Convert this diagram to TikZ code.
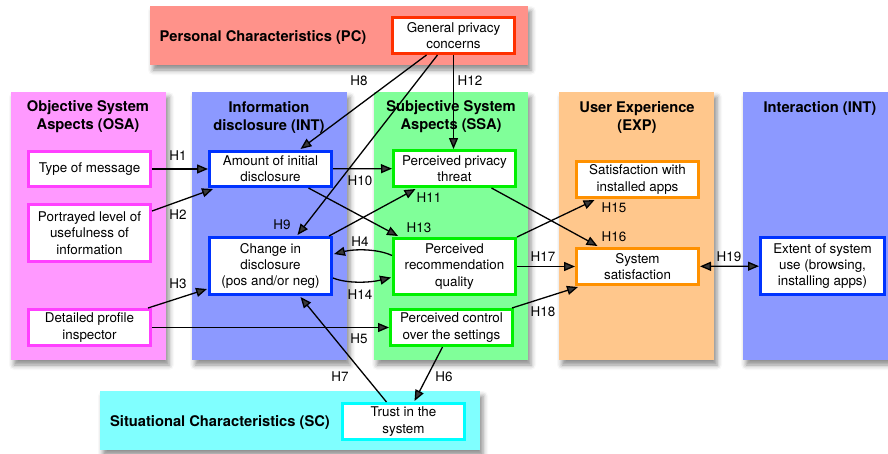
\documentclass[tikz,border=0pt]{standalone}
\usepackage{fontspec}
\setmainfont{TeX Gyre Heros}
\usetikzlibrary{arrows.meta,shadows.blur,calc}
\definecolor{pcfill}{RGB}{255,146,138}
\definecolor{pcline}{RGB}{255,48,0}
\definecolor{osafill}{RGB}{255,153,255}
\definecolor{osaline}{RGB}{255,64,255}
\definecolor{intfill}{RGB}{140,153,255}
\definecolor{intline}{RGB}{0,51,255}
\definecolor{ssafill}{RGB}{128,255,153}
\definecolor{ssaline}{RGB}{0,240,0}
\definecolor{expfill}{RGB}{255,199,140}
\definecolor{expline}{RGB}{255,145,0}
\definecolor{scfill}{RGB}{128,255,255}
\definecolor{scline}{RGB}{0,255,255}
\begin{document}
\begin{tikzpicture}[x=1pt,y=-1pt,
  grp/.style={blur shadow={shadow xshift=3pt,shadow yshift=-5pt,shadow blur radius=5pt,shadow opacity=45}},
  grptitle/.style={font=\fontsize{14.7}{18}\selectfont\bfseries, align=center, inner sep=0pt},
  box/.style={draw, fill=white, line width=2.6pt, minimum width=122.4pt, inner sep=0pt, align=center, font=\fontsize{13.4}{16.3}\selectfont},
  lab/.style={font=\fontsize{13.4}{16}\selectfont, inner sep=0pt},
  arr/.style={line width=1.3pt, -{Triangle[length=11pt,width=9pt]}},
  darr/.style={line width=1.3pt, {Triangle[length=11pt,width=9pt]}-{Triangle[length=11pt,width=9pt]}}
]
\useasboundingbox (0,0) rectangle (888,453);
% group boxes
\path[grp, fill=pcfill] (150,6) rectangle (528,65);
\path[grp, fill=osafill] (11,92) rectangle (166,360);
\path[grp, fill=intfill] (192,92) rectangle (347,360);
\path[grp, fill=ssafill] (374,92) rectangle (528,360);
\path[grp, fill=expfill] (559,92) rectangle (714,360);
\path[grp, fill=intfill] (743,92) rectangle (895,360);
\path[grp, fill=scfill] (100,391) rectangle (480,450);
% group titles
\node[grptitle] (tpc) at (263,37.5) {Personal Characteristics (PC)};
\node[grptitle] (tosa) at (88,117) {Objective System\\Aspects (OSA)};
\node[grptitle] (tint) at (269,117) {Information\\disclosure (INT)};
\node[grptitle] (tssa) at (451,117) {Subjective System\\Aspects (SSA)};
\node[grptitle] (texp) at (637,117) {User Experience\\(EXP)};
\node[grptitle] (tinx) at (820,108.5) {Interaction (INT)};
\node[grptitle] (tsc) at (220,422.5) {Situational Characteristics (SC)};
% concept boxes
\node[box, draw=pcline, minimum height=36.4pt] (gpc) at (453.5,35.5) {General privacy\\concerns};
\node[box, draw=osaline, minimum height=35.4pt] (tom) at (89.5,169) {Type of message};
\node[box, draw=osaline, minimum height=57.4pt] (port) at (89.5,233) {Portrayed level of\\usefulness of\\information};
\node[box, draw=osaline, minimum height=36.4pt] (dpi) at (89.5,327.5) {Detailed profile\\inspector};
\node[box, draw=intline, minimum height=35.4pt] (amt) at (270.5,169) {Amount of initial\\disclosure};
\node[box, draw=intline, minimum height=57.4pt] (chg) at (270.5,266) {Change in\\disclosure\\(pos and/or neg)};
\node[box, draw=ssaline, minimum height=36.4pt] (ppt) at (454.5,168.5) {Perceived privacy\\threat};
\node[box, draw=ssaline, minimum height=56.4pt] (prq) at (454.5,266.5) {Perceived\\recommendation\\quality};
\node[box, draw=ssaline, minimum height=36.4pt] (pcs) at (451.5,327.5) {Perceived control\\over the settings};
\node[box, draw=expline, minimum height=36.4pt] (swi) at (637.5,179.5) {Satisfaction with\\installed apps};
\node[box, draw=expline, minimum height=36.4pt] (ss) at (637.5,266.5) {System\\satisfaction};
\node[box, draw=intline, minimum width=124.4pt, minimum height=57.4pt] (ext) at (822.5,266) {Extent of system\\use (browsing,\\installing apps)};
\node[box, draw=scline, minimum height=36.4pt] (trust) at (403.5,421.5) {Trust in the\\system};
% connectors
\draw[arr] (tom) -- (amt);
\draw[arr] ($(port.north east)+(0,8)$) -- ($(amt.south west)+(5,1)$);
\draw[arr] ($(dpi.north east)+(-4,0)$) -- ($(chg.west)+(-1,23)$);
\draw[arr] ($(prq.west)+(0,-11)$) .. controls +(-15,-7) and +(20,-5) .. ($(chg.east)+(1,-12)$);
\draw[arr] (dpi) -- (pcs);
\draw[arr] ($(pcs.south)+(-9,0)$) -- ($(trust.north)+(11,-1)$);
\draw[arr] ($(trust.north)+(-17,0)$) -- ($(chg.south)+(30,1)$);
\draw[arr] ($(gpc.south)+(-27,0)$) -- ($(amt.north)+(30,-1)$);
\draw[arr] ($(gpc.south)+(-16,0)$) -- ($(chg.north)+(27,-1)$);
\draw[arr] (amt) -- (ppt);
\draw[arr] ($(chg.north east)+(-4,0)$) -- ($(ppt.south)+(-39,1)$);
\draw[arr] (gpc.south) -- (gpc.south |- ppt.north);
\draw[arr] ($(amt.south)+(38,0)$) -- ($(prq.north west)+(6,-1)$);
\draw[arr] ($(chg.east)+(0,12)$) .. controls +(15,6) and +(-20,5) .. ($(prq.west)+(-1,11)$);
\draw[arr] (prq.north east) -- ($(swi.south)+(-43,1)$);
\draw[arr] ($(ppt.south)+(37,0)$) -- ($(ss.north)+(-40,-1)$);
\draw[arr] (prq) -- (ss);
\draw[arr] ($(pcs.north east)+(-2,0)$) -- ($(ss.south west)+(3,1)$);
\draw[darr] (ss) -- (ext);
% labels
\node[lab] (h1) at (178,156) {H1};
\node[lab] (h2) at (178,215) {H2};
\node[lab] (h3) at (178,284) {H3};
\node[lab] (h4) at (360,242) {H4};
\node[lab] (h5) at (359,339) {H5};
\node[lab] (h6) at (444,377) {H6};
\node[lab] (h7) at (340,377) {H7};
\node[lab] (h8) at (359,81) {H8};
\node[lab] (h9) at (282,225) {H9};
\node[lab] (h10) at (360,181) {H10};
\node[lab] (h11) at (429,198) {H11};
\node[lab] (h12) at (470,81) {H12};
\node[lab] (h13) at (419,228) {H13};
\node[lab] (h14) at (360,295) {H14};
\node[lab] (h15) at (614,208) {H15};
\node[lab] (h16) at (614,237) {H16};
\node[lab] (h17) at (543,257) {H17};
\node[lab] (h18) at (543,312) {H18};
\node[lab] (h19) at (729,257) {H19};
\end{tikzpicture}
\end{document}
